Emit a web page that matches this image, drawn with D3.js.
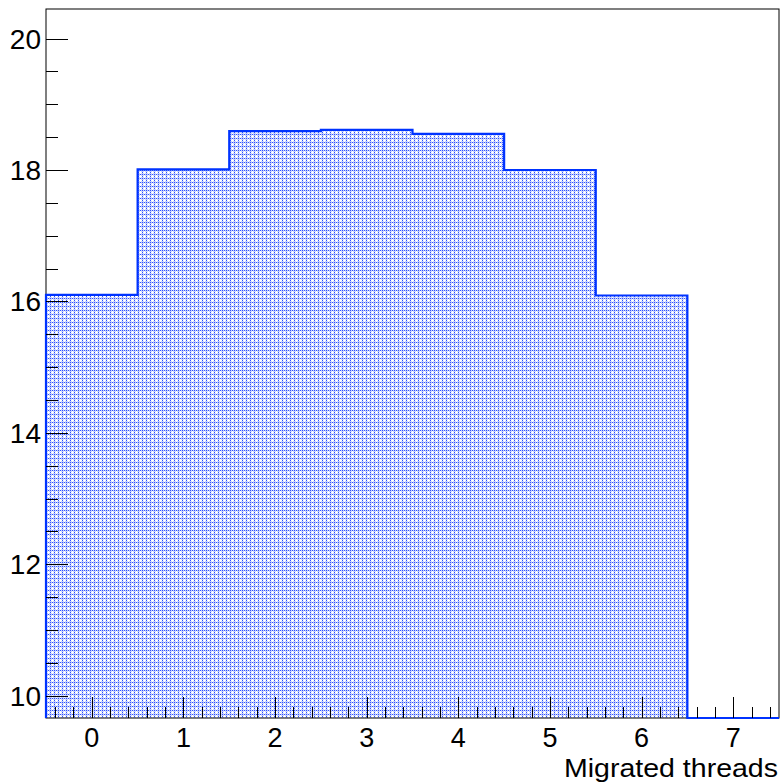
<!DOCTYPE html>
<html>
<head>
<meta charset="utf-8">
<script src="https://cdn.jsdelivr.net/npm/d3@7"></script>
<style>
  body { margin: 0; background: #fff; }
  text { font-family: "Liberation Sans", Arial, sans-serif; }
</style>
</head>
<body>
<div id="chart"></div>
<script>
// histogram data (bin centres and contents)
const binCenters = [0, 1, 2, 3, 4, 5, 6, 7];
const binValues = [16.10, 18.01, 18.59, 18.61, 18.55, 18.00, 16.09, 0];
const xTickLabels = [0, 1, 2, 3, 4, 5, 6, 7];
const yTickLabels = [10, 12, 14, 16, 18, 20];
const xTitle = 'Migrated threads';

const WIDTH = 780, HEIGHT = 782;
const L = 46, R = 779, T = 9, B = 718;

const svg = d3.select('#chart').append('svg')
  .attr('width', WIDTH).attr('height', HEIGHT);

const x = d3.scaleLinear().domain([-0.5, 7.5]).range([L, R]);
const y = d3.scaleLinear().domain([9.66, 20.45]).range([B, T]);

// fill pattern like ROOT's dotted hatch
const defs = svg.append('defs');
const pat = defs.append('pattern').attr('id', 'dots')
  .attr('patternUnits', 'userSpaceOnUse').attr('width', 4).attr('height', 4);
pat.append('rect').attr('width', 4).attr('height', 4).attr('fill', '#c6d0fc');
pat.append('rect').attr('x', 0).attr('y', 0).attr('width', 1).attr('height', 4).attr('fill', '#ffffff');
pat.append('rect').attr('x', 0).attr('y', 0).attr('width', 4).attr('height', 1).attr('fill', '#ffffff');
[[0, 2], [2, 0], [2, 2]].forEach(([px, py]) => {
  pat.append('rect').attr('x', px).attr('y', py).attr('width', 1).attr('height', 1).attr('fill', '#2f52ff');
});

// build the step outline
const pts = [];
binCenters.forEach((c, i) => {
  const v = Math.max(binValues[i], y.domain()[0]);
  pts.push([x(c - 0.5), y(v)]);
  pts.push([x(c + 0.5), y(v)]);
});
const area = [[x(-0.5), B], ...pts, [x(7.5), B]];

svg.append('path')
  .attr('d', d3.line()(area) + 'Z')
  .attr('fill', 'url(#dots)');

// frame
svg.append('rect').attr('x', L).attr('y', T)
  .attr('width', R - L).attr('height', B - T)
  .attr('fill', 'none').attr('stroke', '#000').attr('stroke-width', 1);

svg.append('path')
  .attr('d', d3.line()([[x(-0.5), B], ...pts, [x(7.5), B]]))
  .attr('fill', 'none').attr('stroke', '#0033ff').attr('stroke-width', 2.2);

// y ticks
const yMinor = d3.range(10, 20.01, 0.5);
svg.append('g').selectAll('line').data(yMinor).join('line')
  .attr('x1', L).attr('x2', d => L + (d % 2 === 0 ? 22 : 12))
  .attr('y1', d => Math.round(y(d)) + 0.5).attr('y2', d => Math.round(y(d)) + 0.5)
  .attr('stroke', '#000').attr('stroke-width', 1);
svg.append('g').selectAll('text').data(yTickLabels).join('text')
  .attr('x', 41).attr('y', d => y(d) + 10)
  .attr('text-anchor', 'end').attr('font-size', 28)
  .text(d => d);

// x ticks
const xMinor = d3.range(-0.4, 7.5, 0.2).map(d => Math.round(d * 10) / 10);
svg.append('g').selectAll('line').data(xMinor).join('line')
  .attr('x1', d => Math.round(x(d)) + 0.5).attr('x2', d => Math.round(x(d)) + 0.5)
  .attr('y1', B).attr('y2', d => B - (Number.isInteger(d) ? 21 : 11))
  .attr('stroke', '#000').attr('stroke-width', 1);
svg.append('g').selectAll('text').data(xTickLabels).join('text')
  .attr('x', d => x(d)).attr('y', 747)
  .attr('text-anchor', 'middle').attr('font-size', 27)
  .text(d => d);

svg.append('text').attr('x', 778).attr('y', 777)
  .attr('text-anchor', 'end').attr('font-size', 26)
  .attr('textLength', 214).attr('lengthAdjust', 'spacingAndGlyphs')
  .attr('x', 778 - 214).attr('text-anchor', 'start')
  .text(xTitle);
</script>
</body>
</html>
